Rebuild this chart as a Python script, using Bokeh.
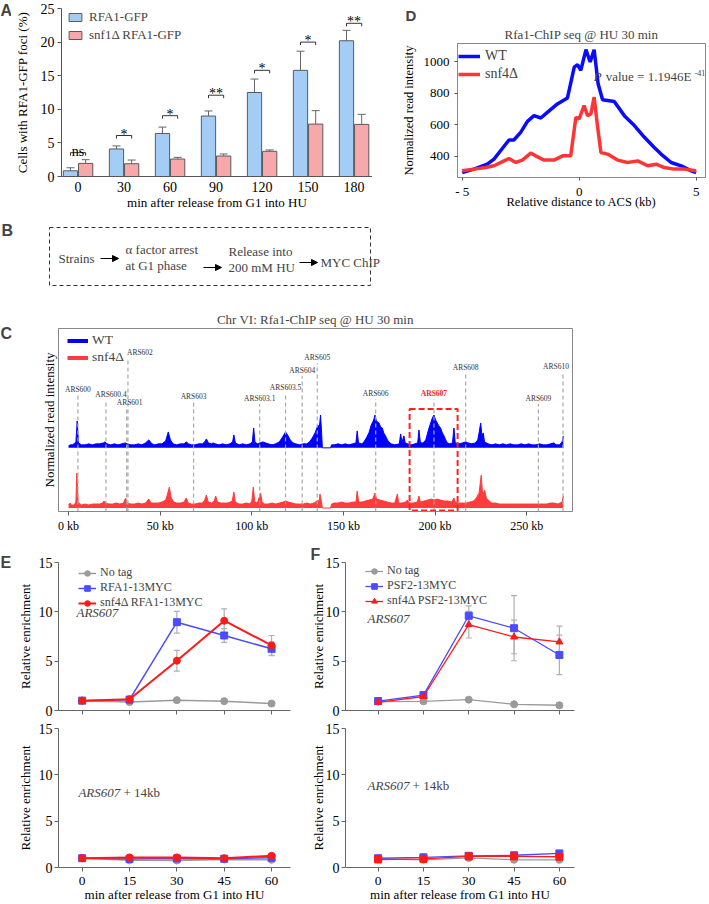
from bokeh.plotting import figure
from bokeh.models import (Range1d, FixedTicker, Legend, LegendItem, Label, Whisker,
                          ColumnDataSource, TeeHead, Arrow, NormalHead, Title)
from bokeh.layouts import column, row
from bokeh.embed import file_html
from bokeh.resources import INLINE
from bokeh.core.properties import value

SERIF = "Liberation Serif"
SANS = "Liberation Sans"
NAN = float("nan")

# ---------------- Panel A data ----------------
a_times = ["0", "30", "60", "90", "120", "150", "180"]
a_rfa1 = [0.85, 4.1, 6.4, 9.0, 12.5, 15.8, 20.2]
a_rfa1_err = [0.45, 0.45, 0.95, 0.75, 2.0, 2.85, 1.55]
a_snf1 = [1.95, 1.9, 2.6, 3.05, 3.75, 7.8, 7.75]
a_snf1_err = [0.55, 0.55, 0.25, 0.3, 0.2, 2.0, 1.5]
a_sig = ["ns", "*", "*", "**", "*", "*", "**"]
a_sig_y = [3.55, 6.1, 9.05, 12.1, 15.8, 20.0, 22.8]

# ---------------- Panel D data ----------------
d_wt_x = [-5, -4.5, -3.93, -3.64, -3.36, -3.0, -2.79, -2.5, -2.21, -1.93, -1.64, -1.36, -0.93,
          -0.5, -0.21, -0.07, 0.07, 0.29, 0.47, 0.64, 0.81, 1.0, 1.5, 1.93, 2.36, 2.79, 3.21,
          3.5, 3.93, 4.36, 4.79, 5.0]
d_wt = [298, 320, 351, 383, 436, 504, 504, 552, 622, 658, 643, 679, 732,
        770, 965, 980, 944, 1075, 997, 1075, 859, 758, 747, 658, 595, 521, 457,
        415, 362, 341, 309, 298]
d_snf4_x = [-5, -4.5, -4.0, -3.64, -3.21, -3.0, -2.71, -2.43, -2.07, -1.86, -1.5, -1.07, -0.71,
            -0.36, -0.14, 0.0, 0.21, 0.36, 0.5, 0.64, 0.79, 0.93, 1.21, 1.64, 2.07, 2.5, 2.93,
            3.29, 3.64, 4.07, 4.5, 5.0]
d_snf4 = [309, 320, 330, 341, 372, 387, 362, 377, 421, 404, 377, 377, 404,
          404, 648, 637, 722, 658, 669, 775, 584, 425, 415, 377, 362, 372, 341,
          351, 330, 320, 320, 309]

# ---------------- Panel C data ----------------
c_ticks_kb = [0, 50, 100, 150, 200, 250]
c_wt_kb = [0, 1, 2, 3, 4, 4.7, 5.4, 7, 9, 11,
           13, 15, 17, 19, 19.8, 21, 23, 25, 27, 29,
           31, 32, 34, 36, 38, 40, 42, 43.8, 45.5, 47,
           49, 51, 53, 54.4, 55.6, 57, 59, 61, 63, 64.2,
           65.5, 67, 69, 71, 73, 74.3, 75.2, 76.3, 78, 78.8,
           80, 82, 84, 86, 88, 89.5, 90.2, 91, 93, 95,
           97, 99, 100.3, 101, 101.7, 103, 104.5, 106, 107.5, 109,
           111, 113, 115, 116.5, 118.4, 119.5, 121, 122.5, 124, 126,
           128, 130, 131.5, 133, 134.5, 136.1, 136.8, 137.5, 138, 138.5,
           143, 143.5, 145, 147, 149, 151, 153, 155, 156.8, 157.5,
           158.2, 160, 161.2, 162.5, 163.9, 165, 165.7, 166.5, 167.2, 168,
           169.4, 170.3, 171.2, 172, 173, 174, 174.8, 176, 178, 180.5,
           181.2, 182, 183, 183.7, 185, 187, 189, 190.5, 191.2, 192,
           193.5, 194.9, 195.8, 196.7, 197.6, 198.5, 199.4, 200.3, 201.2, 202.1,
           203, 204, 204.9, 205.8, 206.7, 208, 209.5, 210.3, 211, 213,
           215, 216.7, 218, 220, 222, 223.3, 224, 224.9, 225.6, 226.3,
           227, 229, 231, 233, 235, 237, 239, 241, 243, 245,
           247, 249, 251, 253, 255, 257, 259, 261, 263, 264.9,
           266, 268, 269.3, 270]
c_wt_h = [2, 3, 3, 4, 6, 27, 5, 3, 3, 4,
          3, 4, 4, 5, 6, 4, 3, 4, 3, 4,
          5, 4, 3, 3, 4, 3, 5, 8, 4, 3,
          4, 4, 7, 16, 8, 4, 3, 4, 4, 6,
          4, 3, 3, 4, 4, 6, 9, 5, 4, 5,
          4, 3, 4, 3, 4, 6, 13, 5, 3, 4,
          3, 4, 6, 20, 6, 4, 5, 6, 5, 4,
          3, 4, 6, 10, 16, 13, 8, 5, 4, 3,
          4, 4, 6, 10, 15, 23, 20, 33, 18, 0,
          0, 3, 3, 4, 3, 4, 3, 4, 5, 17,
          5, 4, 6, 10, 15, 22, 25, 28, 33, 27,
          25, 21, 20, 15, 12, 8, 6, 4, 3, 4,
          14, 6, 12, 5, 4, 3, 4, 5, 18, 5,
          5, 8, 14, 20, 25, 30, 33, 28, 25, 22,
          20, 15, 12, 8, 5, 4, 5, 20, 5, 4,
          5, 6, 5, 4, 5, 8, 15, 25, 12, 15,
          6, 4, 3, 4, 3, 4, 3, 4, 3, 3,
          4, 3, 4, 3, 3, 4, 3, 3, 4, 5,
          3, 3, 6, 12]
c_snf4_kb = [0, 0.8, 1.5, 3, 4, 4.5, 5.2, 7, 9, 11,
             13, 15, 17, 18.5, 19.3, 20.2, 22, 24, 26, 28,
             30, 31.1, 32, 34, 36, 38, 40, 42, 43.8, 45,
             47, 49, 51, 53, 53.7, 55, 56, 57.5, 59, 61,
             63, 64.2, 65.3, 67, 69, 71, 73, 74.3, 75.2, 76.2,
             78, 79.5, 80.3, 81.2, 83, 85, 87, 89.3, 90.2, 91,
             93, 95, 97, 99, 100, 100.8, 101.6, 103, 104.8, 105.6,
             107, 109, 111, 113, 115, 117, 118.4, 120, 122, 124,
             126, 128, 130, 132, 134, 136.1, 136.7, 137.2, 138, 138.5,
             143, 143.5, 145, 147, 149, 151, 153, 155, 156.8, 157.5,
             158.3, 160, 162, 164, 166, 167.2, 168, 170, 172, 174,
             176, 178, 179.4, 180.2, 182, 184, 184.8, 186, 188, 190.3,
             191.2, 192, 194, 196, 198, 199.5, 201, 203, 205, 207,
             209, 210.3, 211, 213, 215, 217, 219, 221, 222.5, 224,
             225.2, 226, 227, 228, 229.5, 231, 233, 235, 237, 239,
             241, 243, 245, 247, 249, 251, 253, 255, 257, 259,
             261, 263, 265, 267, 269.3, 270]
c_snf4_h = [3, 5, 3, 3, 6, 35, 6, 3, 4, 3,
            4, 4, 4, 5, 7, 5, 4, 4, 5, 4,
            5, 10, 5, 4, 4, 5, 4, 5, 9, 5,
            5, 5, 6, 8, 12, 21, 10, 6, 5, 5,
            6, 10, 5, 4, 4, 5, 5, 8, 13, 6,
            5, 7, 12, 6, 5, 5, 5, 7, 16, 6,
            4, 4, 5, 4, 7, 21, 6, 5, 15, 6,
            4, 4, 5, 4, 5, 6, 7, 6, 5, 4,
            4, 4, 5, 4, 5, 8, 6, 14, 6, 0,
            0, 4, 5, 5, 6, 5, 5, 6, 6, 17,
            6, 6, 7, 8, 9, 15, 9, 8, 7, 6,
            5, 5, 14, 5, 5, 6, 8, 5, 5, 6,
            12, 6, 7, 8, 9, 8, 9, 8, 7, 7,
            6, 10, 6, 5, 5, 5, 6, 7, 10, 15,
            33, 12, 18, 10, 7, 5, 5, 4, 4, 4,
            4, 4, 4, 4, 4, 4, 4, 4, 4, 4,
            4, 5, 5, 4, 6, 12]
ars_names = ["ARS600", "ARS600.4", "ARS601", "ARS602", "ARS603", "ARS603.1", "ARS603.5",
             "ARS604", "ARS605", "ARS606", "ARS607", "ARS608", "ARS609", "ARS610"]
ars_kb = [5.1, 20.4, 31.7, 32.4, 68.2, 104.3, 118.4, 127.5, 135.7, 167.6, 199.4, 216.7, 256.4, 269.8]
box_kb = [186.1, 212.3]

# ---------------- Panels E / F data ----------------
times = [0, 15, 30, 45, 60]
e_notag = [1.0, 0.85, 1.05, 0.95, 0.7]
e_notag_err = [0.05, 0.08, 0.08, 0.08, 0.1]
e_rfa1 = [1.0, 1.1, 8.95, 7.6, 6.25]
e_rfa1_err = [0.1, 0.1, 1.1, 0.7, 0.7]
e_snf4 = [1.0, 1.15, 5.05, 9.1, 6.6]
e_snf4_err = [0.1, 0.1, 1.05, 1.2, 1.0]
e14_notag = [1.0, 0.78, 0.76, 0.86, 0.83]
e14_rfa1 = [1.0, 0.93, 0.97, 0.95, 1.05]
e14_snf4 = [1.0, 1.09, 1.09, 1.0, 1.26]

f_notag = [0.9, 0.93, 1.1, 0.63, 0.53]
f_notag_err = [0.05, 0.1, 0.1, 0.1, 0.25]
f_psf2 = [0.96, 1.56, 9.6, 8.34, 5.63]
f_psf2_err = [0.1, 0.3, 1.0, 3.3, 2.0]
f_snf4 = [0.83, 1.42, 8.7, 7.45, 6.95]
f_snf4_err = [0.1, 0.2, 1.35, 1.7, 1.6]
f14_notag = [0.93, 0.83, 1.03, 0.83, 0.83]
f14_psf2 = [1.0, 1.1, 1.26, 1.32, 1.52]
f14_snf4 = [0.86, 0.93, 1.2, 1.2, 1.16]


def base_fig(width, height, xr, yr, left, right, top, bottom):
    p = figure(width=width, height=height, x_range=xr, y_range=yr,
               output_backend="svg", toolbar_location=None, frame_align=False,
               min_border_left=left, min_border_right=right,
               min_border_top=top, min_border_bottom=bottom)
    p.grid.visible = False
    p.outline_line_color = None
    for ax in p.axis:
        ax.major_label_text_font = SERIF
        ax.axis_label_text_font = SERIF
        ax.axis_label_text_font_style = "normal"
        ax.axis_label_text_color = "black"
        ax.major_label_text_color = "black"
        ax.minor_tick_in = 0
        ax.minor_tick_out = 0
        ax.major_tick_in = 0
        ax.axis_line_color = "#555555"
        ax.major_tick_line_color = "#555555"
    return p


def letter_fig(text, width, height, y_from_top):
    p = figure(width=width, height=height, x_range=Range1d(0, width), y_range=Range1d(0, height),
               output_backend="svg", toolbar_location=None, frame_align=False,
               x_axis_type=None, y_axis_type=None,
               min_border_left=0, min_border_right=0, min_border_top=0, min_border_bottom=0)
    p.grid.visible = False
    p.outline_line_color = None
    p.add_layout(Label(x=0, y=height - y_from_top, text=text, text_font=SANS,
                       text_font_style="bold", text_font_size="16px",
                       text_baseline="middle", text_align="left"))
    return p


def make_legend(items, vx, vy, glyph_h, label_h, spacing, font_size, glyph_w, standoff=5):
    return Legend(items=items, location=(vx, vy), orientation="vertical",
                  glyph_width=glyph_w, glyph_height=glyph_h, label_height=label_h,
                  spacing=spacing, padding=0, margin=0, border_line_color=None,
                  background_fill_alpha=0, label_text_font=SERIF,
                  label_text_font_size=font_size, label_standoff=standoff)


# ================= Panel A =================
lA = letter_fig("A", 11, 212, 10)
pA = base_fig(361, 212, Range1d(-0.36, 6.4), Range1d(0, 25), 46, 0, 8, 35)
idx = list(range(len(a_times)))
xb = [i - 0.165 for i in idx]
xp = [i + 0.165 for i in idx]
rb = pA.vbar(x=xb, top=a_rfa1, width=0.31, fill_color="#a3cdf5", line_color="#5a5a5a", line_width=1)
rp = pA.vbar(x=xp, top=a_snf1, width=0.31, fill_color="#f7a8ab", line_color="#5a5a5a", line_width=1)
for xs, vals, errs in ((xb, a_rfa1, a_rfa1_err), (xp, a_snf1, a_snf1_err)):
    src = ColumnDataSource(dict(x=xs, lo=vals, hi=[v + e for v, e in zip(vals, errs)]))
    pA.add_layout(Whisker(base="x", lower="lo", upper="hi", source=src, dimension="height",
                          line_color="#666666", line_width=1, lower_head=None,
                          upper_head=TeeHead(size=8, line_color="#666666", line_width=1)))
pA.segment(x0=xb, y0=a_sig_y, x1=xp, y1=a_sig_y, line_color="#333333", line_width=1)
pA.segment(x0=xb, y0=a_sig_y, x1=xb, y1=[y - 0.45 for y in a_sig_y], line_color="#333333", line_width=1)
pA.segment(x0=xp, y0=a_sig_y, x1=xp, y1=[y - 0.45 for y in a_sig_y], line_color="#333333", line_width=1)
pA.text(x=idx, y=[y + 0.2 for y in a_sig_y], text=a_sig, text_align="center",
        text_baseline="alphabetic", text_font=value(SERIF), text_font_size="14px", text_color="black")
pA.xaxis.ticker = FixedTicker(ticks=idx)
pA.xaxis.major_label_overrides = {i: t for i, t in enumerate(a_times)}
pA.xaxis.major_tick_out = 0
pA.xaxis.major_label_text_font_size = "14px"
pA.xaxis.major_label_standoff = 5
pA.xaxis.axis_label = "min after release from G1 into HU"
pA.xaxis.axis_label_text_font_size = "13px"
pA.xaxis.axis_label_standoff = 0
pA.yaxis.ticker = FixedTicker(ticks=[0, 5, 10, 15, 20, 25])
pA.yaxis.major_tick_out = 4
pA.yaxis.major_label_standoff = 3
pA.yaxis.major_label_text_font_size = "14px"
pA.yaxis.axis_label = "Cells with RFA1-GFP foci (%)"
pA.yaxis.axis_label_text_font_size = "13px"
pA.yaxis.axis_label_standoff = 8
pA.add_layout(make_legend([LegendItem(label="RFA1-GFP", renderers=[rb]),
                           LegendItem(label="snf1Δ RFA1-GFP", renderers=[rp])],
                          6, 133, 10, 10, 2, "13px", 16, 6))

# ================= Panel D =================
pD = base_fig(337, 212, Range1d(-5.2, 5.4), Range1d(267, 1114), 85, 4, 43, 35)
pD.outline_line_color = "#888888"
pD.title.text = "D"
pD.title.align = "left"
pD.title.offset = -52
pD.title.text_font = SANS
pD.title.text_font_style = "bold"
pD.title.text_font_size = "15px"
pD.title.standoff = 0
pD.add_layout(Title(text="Rfa1-ChIP seq @ HU 30 min", align="center", text_font=SERIF,
                    text_font_size="13px", text_font_style="normal", standoff=3), "above")
dw = pD.line(d_wt_x, d_wt, line_color="#0a0aff", line_width=3.5)
ds = pD.line(d_snf4_x, d_snf4, line_color="#ff3535", line_width=3.5)
pD.xaxis.ticker = FixedTicker(ticks=[-5, 0, 5])
pD.xaxis.major_label_overrides = {-5: "- 5"}
pD.xaxis.major_tick_out = 3
pD.xaxis.major_label_text_font_size = "13px"
pD.xaxis.major_label_standoff = 3
pD.xaxis.axis_label = "Relative distance to ACS (kb)"
pD.xaxis.axis_label_text_font_size = "12.5px"
pD.xaxis.axis_label_standoff = -7
pD.yaxis.ticker = FixedTicker(ticks=[400, 600, 800, 1000])
pD.yaxis.major_tick_out = 3
pD.yaxis.major_label_text_font_size = "13px"
pD.yaxis.axis_label = "Normalized read intensity"
pD.yaxis.axis_label_text_font_size = "12.5px"
pD.yaxis.axis_label_standoff = 5
for ax in pD.axis:
    ax.axis_line_color = "#888888"
pD.add_layout(make_legend([LegendItem(label="WT", renderers=[dw]),
                           LegendItem(label="snf4Δ", renderers=[ds])],
                          1, 94, 18, 18, 0, "14px", 22, 5))
PX = 0.62
pD.add_layout(Label(x=PX, y=905, text="P", text_font=SERIF, text_font_style="italic",
                    text_font_size="13px", text_baseline="middle"))
pD.add_layout(Label(x=PX, y=905, x_offset=12, text="value = 1.1946E", text_font=SERIF,
                    text_font_size="13px", text_baseline="middle"))
pD.add_layout(Label(x=PX, y=905, x_offset=101, y_offset=4, text="-41", text_font=SERIF,
                    text_font_size="8px", text_baseline="middle"))

# ================= Panel B =================
pB = figure(width=709, height=78, x_range=Range1d(0, 709), y_range=Range1d(290, 212),
            output_backend="svg", toolbar_location=None, frame_align=False,
            x_axis_type=None, y_axis_type=None,
            min_border_left=0, min_border_right=0, min_border_top=0, min_border_bottom=0)
pB.grid.visible = False
pB.outline_line_color = None
pB.quad(left=49, right=370, top=227, bottom=285, fill_color=None, line_color="#333333",
        line_dash="4 3", line_width=1)
for (x0, y0, x1) in ((100, 258, 118), (203, 267, 221), (299, 262, 317)):
    pB.add_layout(Arrow(end=NormalHead(size=6, fill_color="black", line_color="black"),
                        x_start=x0, y_start=y0, x_end=x1, y_end=y0, line_width=1))
for (tx, ty, tt) in ((58, 258, "Strains"), (125, 249, "α factor arrest"), (125, 265, "at G1 phase"),
                     (228, 251, "Release into"), (228, 267, "200 mM HU"), (320, 262, "MYC ChIP")):
    pB.add_layout(Label(x=tx, y=ty, text=tt, text_font=SERIF, text_font_size="13px",
                        text_baseline="middle", text_align="left"))
pB.add_layout(Label(x=1, y=230, text="B", text_font=SANS, text_font_style="bold",
                    text_font_size="16px", text_baseline="middle"))

# ================= Panel C =================
lC = letter_fig("C", 14, 245, 43)
pC = base_fig(695, 245, Range1d(-5.5, 275), Range1d(0, 184), 44, 137, 38, 23)
pC.outline_line_color = "#888888"
pC.title.text = "Chr VI: Rfa1-ChIP seq @ HU 30 min"
pC.title.align = "center"
pC.title.text_font = SERIF
pC.title.text_font_size = "13px"
pC.title.text_font_style = "normal"
pC.title.standoff = 4
WT_OFF = 64
SN_OFF = 3.5
pC.varea(x=c_wt_kb, y1=WT_OFF, y2=[WT_OFF + h for h in c_wt_h], fill_color="#0000ff")
pC.line(c_wt_kb, [WT_OFF + h for h in c_wt_h], line_color="#0000ff", line_width=1)
pC.varea(x=c_snf4_kb, y1=SN_OFF, y2=[SN_OFF + h for h in c_snf4_h], fill_color="#ff3b3b")
pC.line(c_snf4_kb, [SN_OFF + h for h in c_snf4_h], line_color="#ff3b3b", line_width=1)
ars_label_y = [123, 118, 110, 160, 116, 114, 125, 142, 155, 119, 119, 145, 114, 146]
ars_label_dx = [0, 5, 3, 12, 0, 0, 0, 0, 0, 0, 0, 0, 0, -7]
pC.segment(x0=ars_kb, y0=0, x1=ars_kb, y1=[ly - 6 for ly in ars_label_y],
           line_color="#a8a8a8", line_width=1.2, line_dash="4 3")
for name, kb, ly, dx in zip(ars_names, ars_kb, ars_label_y, ars_label_dx):
    red = name == "ARS607"
    pC.add_layout(Label(x=kb, y=ly, x_offset=dx, text=name, text_font=SERIF,
                        text_font_size="7.5px", text_align="center", text_baseline="middle",
                        text_color="#ff2020" if red else "#333333",
                        text_font_style="bold" if red else "normal"))
pC.quad(left=box_kb[0], right=box_kb[1], bottom=1, top=103, fill_color=None,
        line_color="#ff2020", line_width=2, line_dash="6 3")
cw = pC.line(x=[NAN], y=[NAN], line_color="#0000ff", line_width=4)
cs = pC.line(x=[NAN], y=[NAN], line_color="#ff3b3b", line_width=4)
pC.add_layout(make_legend([LegendItem(label="WT", renderers=[cw]),
                           LegendItem(label="snf4Δ", renderers=[cs])],
                          9, 145.5, 17, 17, 0, "13.5px", 21, 4))
pC.xaxis.ticker = FixedTicker(ticks=c_ticks_kb)
pC.xaxis.major_label_overrides = {k: f"{k} kb" for k in c_ticks_kb}
pC.xaxis.major_tick_out = 4
pC.xaxis.major_label_text_font_size = "12px"
pC.xaxis.major_label_standoff = 3
pC.yaxis.ticker = FixedTicker(ticks=[])
pC.yaxis.major_tick_out = 0
pC.yaxis.axis_label = "Normalized read intensity"
pC.yaxis.axis_label_text_font_size = "13px"
pC.yaxis.axis_label_standoff = 2
for ax in pC.axis:
    ax.axis_line_color = "#888888"


# ================= Panels E / F =================
def ef_fig(width, height, xr, left, right, top, bottom, show_x):
    p = base_fig(width, height, xr, Range1d(0, 15), left, right, top, bottom)
    p.yaxis.ticker = FixedTicker(ticks=[0, 5, 10, 15])
    p.yaxis.major_tick_out = 4
    p.yaxis.major_label_text_font_size = "14px"
    p.yaxis.major_label_standoff = 2
    p.yaxis.axis_label = "Relative enrichment"
    p.yaxis.axis_label_text_font_size = "13px"
    p.yaxis.axis_label_standoff = 3
    p.xaxis.ticker = FixedTicker(ticks=times)
    p.xaxis.major_tick_out = 4
    if show_x:
        p.xaxis.major_label_text_font_size = "13.5px"
        p.xaxis.major_label_standoff = 5
        p.xaxis.axis_label = "min after release from G1 into HU"
        p.xaxis.axis_label_text_font_size = "13px"
        p.xaxis.axis_label_standoff = -1
    else:
        p.xaxis.major_label_overrides = {t: "" for t in times}
        p.xaxis.major_label_standoff = 0
    for ax in p.axis:
        ax.axis_line_color = "#666666"
        ax.major_tick_line_color = "#666666"
    return p


def series(p, ys, errs, color, marker, lw, size):
    if errs is not None:
        src = ColumnDataSource(dict(x=times, lo=[v - e for v, e in zip(ys, errs)],
                                    hi=[v + e for v, e in zip(ys, errs)]))
        w = Whisker(base="x", lower="lo", upper="hi", source=src, dimension="height",
                    line_color="#b0b0b0", line_width=1.2, level="underlay",
                    upper_head=TeeHead(size=6, line_color="#b0b0b0", line_width=1.2),
                    lower_head=TeeHead(size=6, line_color="#b0b0b0", line_width=1.2))
        p.add_layout(w)
    l = p.line(times, ys, line_color=color, line_width=lw)
    s = p.scatter(times, ys, marker=marker, size=size, fill_color=color, line_color=color)
    return [l, s]


GREY = "#9a9a9a"
BLUE = "#4b4bff"
RED = "#ff1a1a"

lE = letter_fig("E", 14, 369, 27)

pE1 = ef_fig(286, 184, Range1d(-7.5, 66), 43, 10, 27, 9, False)
r1 = series(pE1, e_notag, e_notag_err, GREY, "circle", 1.5, 7)
r2 = series(pE1, e_rfa1, e_rfa1_err, BLUE, "square", 1.5, 7)
r3 = series(pE1, e_snf4, e_snf4_err, RED, "circle", 2, 7)
pE1.add_layout(make_legend([LegendItem(label="No tag", renderers=r1),
                            LegendItem(label="RFA1-13MYC", renderers=r2),
                            LegendItem(label="snf4Δ RFA1-13MYC", renderers=r3)],
                           20, 100, 14, 14, 0, "12px", 18, 4))
pE1.add_layout(Label(x=-1.8, y=9.9, text="ARS607", text_font=SERIF, text_font_style="italic",
                     text_font_size="13px", text_baseline="middle"))

pE2 = ef_fig(286, 185, Range1d(-7.5, 66), 43, 10, 9, 35, True)
series(pE2, e14_notag, None, GREY, "circle", 1.5, 7)
series(pE2, e14_rfa1, None, BLUE, "square", 1.5, 7)
series(pE2, e14_snf4, None, RED, "circle", 2, 7)
pE2.add_layout(Label(x=-1.2, y=8.1, text="ARS607", text_font=SERIF, text_font_style="italic",
                     text_font_size="13px", text_baseline="middle"))
pE2.add_layout(Label(x=-1.2, y=8.1, x_offset=45, text="+ 14kb", text_font=SERIF,
                     text_font_size="13px", text_baseline="middle"))

pF1 = ef_fig(409, 184, Range1d(-10.8, 65), 45, 135, 27, 9, False)
pF1.yaxis.axis_label_standoff = -3
pF1.title.text = "F"
pF1.title.align = "left"
pF1.title.offset = -35
pF1.title.text_font = SANS
pF1.title.text_font_style = "bold"
pF1.title.text_font_size = "16px"
pF1.title.standoff = 0
q1 = series(pF1, f_notag, f_notag_err, GREY, "circle", 1.3, 7)
q2 = series(pF1, f_psf2, f_psf2_err, BLUE, "square", 1.3, 7)
q3 = series(pF1, f_snf4, f_snf4_err, RED, "triangle", 1.3, 7)
pF1.add_layout(make_legend([LegendItem(label="No tag", renderers=q1),
                            LegendItem(label="PSF2-13MYC", renderers=q2),
                            LegendItem(label="snf4Δ PSF2-13MYC", renderers=q3)],
                           20, 102, 14, 14, 0, "12px", 18, 4))
pF1.add_layout(Label(x=-3.5, y=9.3, text="ARS607", text_font=SERIF, text_font_style="italic",
                     text_font_size="13px", text_baseline="middle"))

pF2 = ef_fig(409, 185, Range1d(-10.8, 65), 45, 135, 9, 35, True)
pF2.yaxis.axis_label_standoff = -3
series(pF2, f14_notag, None, GREY, "circle", 1.3, 7)
series(pF2, f14_psf2, None, BLUE, "square", 1.3, 7)
series(pF2, f14_snf4, None, RED, "square", 1.3, 7)
pF2.add_layout(Label(x=-3.5, y=8.9, text="ARS607", text_font=SERIF, text_font_style="italic",
                     text_font_size="13px", text_baseline="middle"))
pF2.add_layout(Label(x=-3.5, y=8.9, x_offset=45, text="+ 14kb", text_font=SERIF,
                     text_font_size="13px", text_baseline="middle"))

layout = column(row(lA, pA, pD, spacing=0), pB, row(lC, pC, spacing=0),
                row(lE, column(pE1, pE2, spacing=0), column(pF1, pF2, spacing=0), spacing=0),
                spacing=0)

open("out.html", "w").write(file_html(layout, INLINE))
